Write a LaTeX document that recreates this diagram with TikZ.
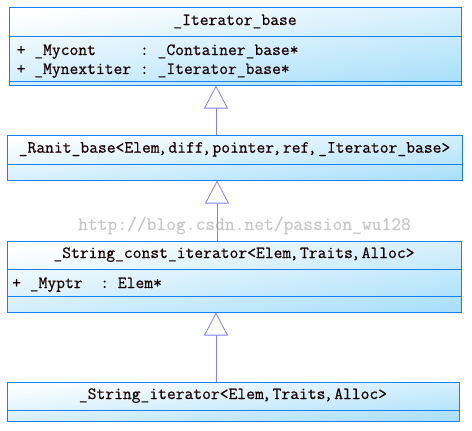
\documentclass[tikz,border=0pt]{standalone}
\usepackage{fontspec}
\usepackage{tikz}
\usetikzlibrary{arrows.meta}
\setmonofont{Latin Modern Mono}[FakeBold=0.6]
\definecolor{umlblue}{RGB}{22,128,240}
\definecolor{umltop}{RGB}{255,255,255}
\definecolor{umlbottom}{RGB}{172,224,250}
\definecolor{inherit}{RGB}{128,128,255}
\definecolor{mark}{RGB}{200,200,200}
\newcommand{\umlfont}{\fontsize{17.1}{20}\selectfont\ttfamily}
\newcommand{\markfont}{\fontsize{19}{22}\selectfont\ttfamily}
\newcommand{\sepcomma}{\rlap{\kern-1.5pt,}\ }
\tikzset{
  classbox/.style={rectangle, draw=umlblue, line width=1pt, top color=umltop, bottom color=umlbottom, shading angle=8, inner sep=0pt},
  sepline/.style={draw=umlblue, line width=1pt},
  classname/.style={anchor=base, inner sep=0pt, font=\umlfont, text=black!90!red},
  member/.style={anchor=base west, inner sep=0pt, font=\umlfont, text=black!90!red},
  watermark/.style={anchor=base, inner sep=0pt, font=\markfont, text=mark},
  inheritarrow/.style={draw=inherit, line width=0.8pt, -{Triangle[open, length=23pt, width=24pt, fill=white]}},
}
\begin{document}
\begin{tikzpicture}[x=1pt, y=-1pt]
  \useasboundingbox (0,0) rectangle (472,431);
  % class boxes
  \node[classbox, minimum width=452pt, minimum height=78pt] (iterbase) at (235,46) {};
  \node[classbox, shading angle=6, minimum width=455pt, minimum height=45pt] (ranit) at (234.5,157.5) {};
  \node[classbox, minimum width=454pt, minimum height=71pt] (constiter) at (234,276.5) {};
  \node[classbox, shading angle=5, minimum width=452pt, minimum height=39pt] (striter) at (233,401.5) {};
  % compartments
  \draw[sepline] (iterbase.west |- 0,36) -- (iterbase.east |- 0,36);
  \draw[sepline] (iterbase.west |- 0,81) -- (iterbase.east |- 0,81);
  \draw[sepline] (ranit.west |- 0,164) -- (ranit.east |- 0,164);
  \draw[sepline] (constiter.west |- 0,269) -- (constiter.east |- 0,269);
  \draw[sepline] (constiter.west |- 0,296) -- (constiter.east |- 0,296);
  \draw[sepline] (striter.west |- 0,410) -- (striter.east |- 0,410);
  % names and members
  \node[classname] (iterbase-name) at (iterbase.center |- 0,25) {\_Iterator\_base};
  \node[member] (iterbase-cont) at (16.5,55) {+ \_Mycont\ \ \ \ \ : \_Container\_base*};
  \node[member] (iterbase-next) at (16.5,74) {+ \_Mynextiter : \_Iterator\_base*};
  \node[classname] (ranit-name) at (ranit.center |- 0,152.7) {\_Ranit\_base<Elem\sepcomma diff\sepcomma pointer\sepcomma ref\sepcomma \_Iterator\_base>};
  \node[classname] (constiter-name) at (constiter.center |- 0,258) {\_String\_const\_iterator<Elem\sepcomma Traits\sepcomma Alloc>};
  \node[member] (constiter-ptr) at (12,288) {+ \_Myptr\ \ : Elem*};
  \node[classname] (striter-name) at (striter.center |- 0,399) {\_String\_iterator<Elem\sepcomma Traits\sepcomma Alloc>};
  \node[watermark] (blog) at (244.5,230) {http://blog.csdn.net/passion\_wu128};
  % generalisation
  \draw[inheritarrow] (ranit.north -| 216,0) -- (iterbase.south -| 216,0);
  \draw[inheritarrow] (constiter.north -| 217,0) -- (ranit.south -| 217,0);
  \draw[inheritarrow] (striter.north -| 216,0) -- (constiter.south -| 216,0);
\end{tikzpicture}
\end{document}
